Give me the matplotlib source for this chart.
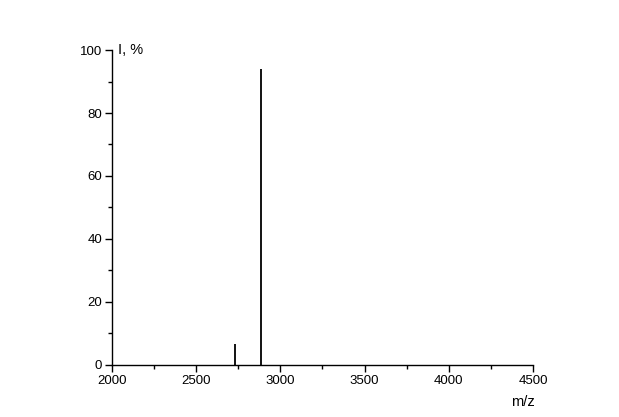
import matplotlib.pyplot as plt
from matplotlib.ticker import MultipleLocator

plt.rcParams['font.family'] = ['Liberation Sans', 'DejaVu Sans']

# peaks (m/z, relative intensity %)
mz = [2733, 2885]
intensity = [6.6, 94.0]

fig = plt.figure(figsize=(6.19, 4.17), dpi=100)
ax = fig.add_axes([0.181, 0.125, 0.680, 0.755])

ax.vlines(mz, 0, intensity, color='black', linewidth=1.3)

ax.set_xlim(2000, 4500)
ax.set_ylim(0, 100)
ax.xaxis.set_major_locator(MultipleLocator(500))
ax.xaxis.set_minor_locator(MultipleLocator(250))
ax.yaxis.set_major_locator(MultipleLocator(20))
ax.yaxis.set_minor_locator(MultipleLocator(10))

for s in ['top', 'right']:
    ax.spines[s].set_visible(False)
for s in ['left', 'bottom']:
    ax.spines[s].set_linewidth(1.0)

ax.tick_params(which='major', direction='out', length=5, width=1.0, labelsize=9.5, pad=2)
ax.tick_params(which='minor', direction='out', length=3, width=1.0)

ax.text(0.014, 1.0, 'I, %', transform=ax.transAxes, fontsize=10.5, va='center', ha='left')
ax.text(0.977, -0.095, 'm/z', transform=ax.transAxes, fontsize=10.5, va='top', ha='center')

plt.savefig('out.png', dpi=100)
